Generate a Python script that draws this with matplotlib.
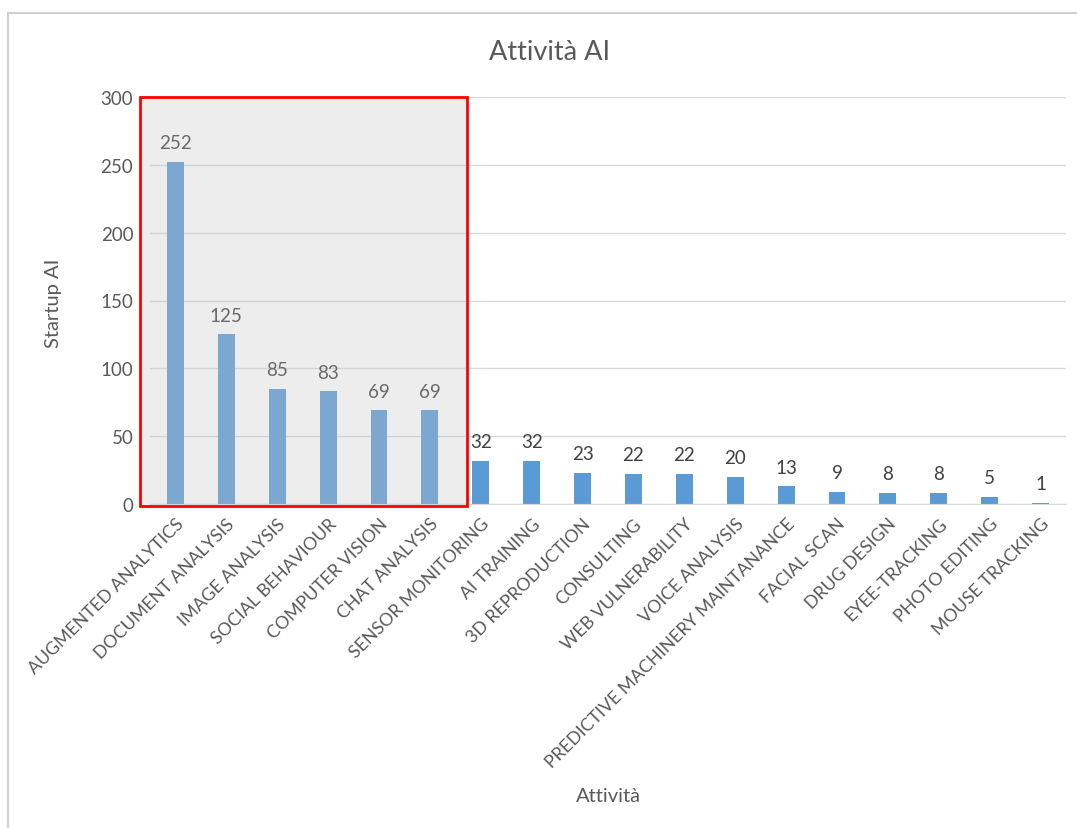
import matplotlib
matplotlib.use("Agg")
import matplotlib.pyplot as plt
from matplotlib.patches import Rectangle

categories = ["AUGMENTED ANALYTICS", "DOCUMENT ANALYSIS", "IMAGE ANALYSIS", "SOCIAL BEHAVIOUR",
              "COMPUTER VISION", "CHAT ANALYSIS", "SENSOR MONITORING", "AI TRAINING",
              "3D REPRODUCTION", "CONSULTING", "WEB VULNERABILITY", "VOICE ANALYSIS",
              "PREDICTIVE MACHINERY MAINTANANCE", "FACIAL SCAN", "DRUG DESIGN", "EYEE-TRACKING",
              "PHOTO EDITING", "MOUSE TRACKING"]
values = [252, 125, 85, 83, 69, 69, 32, 32, 23, 22, 22, 20, 13, 9, 8, 8, 5, 1]
yticks = [0, 50, 100, 150, 200, 250, 300]

plt.rcParams['font.family'] = ['Lato', 'DejaVu Sans']

W, H = 1077, 829
fig = plt.figure(figsize=(W / 100, H / 100), dpi=100)
ax = fig.add_axes([150 / W, (H - 505) / H, 916 / W, 407 / H])

x = list(range(len(categories)))
ax.bar(x, values, width=0.33, color="#5B9BD5", zorder=2)
for xi, v in zip(x, values):
    ax.text(xi, v + 8, str(v), ha="center", va="bottom", fontsize=13.5, color="#404040", zorder=3)

ax.set_xlim(-0.5, len(categories) - 0.5)
ax.set_ylim(0, 300)
ax.set_yticks(yticks)
ax.yaxis.grid(True, color="#D9D9D9", linewidth=1, zorder=0)
ax.set_axisbelow(True)
for s in ["left", "right", "top"]:
    ax.spines[s].set_visible(False)
ax.spines["bottom"].set_color("#D9D9D9")
ax.tick_params(axis="both", length=0, colors="#595959", labelsize=13.5)
ax.tick_params(axis="y", pad=12)
ax.set_xticks(x)
ax.set_xticklabels(categories, rotation=45, ha="right", rotation_mode="anchor", fontsize=12.8)
ax.tick_params(axis="x", pad=8)

fig.text(550 / W, 1 - 52 / H, "Attività AI", ha="center", va="center", fontsize=19.5, color="#595959")
fig.text(53 / W, 1 - 303 / H, "Startup AI", ha="center", va="center", rotation=90, fontsize=14.5, color="#595959")
fig.text(608 / W, 1 - 797 / H, "Attività", ha="center", va="center", fontsize=14.5, color="#595959")

# chart border
fig.patches.append(Rectangle((8 / W, -0.1), 1.2, 1 - 14 / H + 0.1, transform=fig.transFigure,
                             fill=False, edgecolor="#D0D0D0", linewidth=1.5, zorder=0))
# highlight box
fig.patches.append(Rectangle((140 / W, (H - 507) / H), 327 / W, 409 / H, transform=fig.transFigure,
                             facecolor=(198 / 255, 198 / 255, 198 / 255, 0.3), edgecolor="#FF0000",
                             linewidth=2, zorder=10))

fig.savefig("out.png", dpi=100, facecolor="white")
